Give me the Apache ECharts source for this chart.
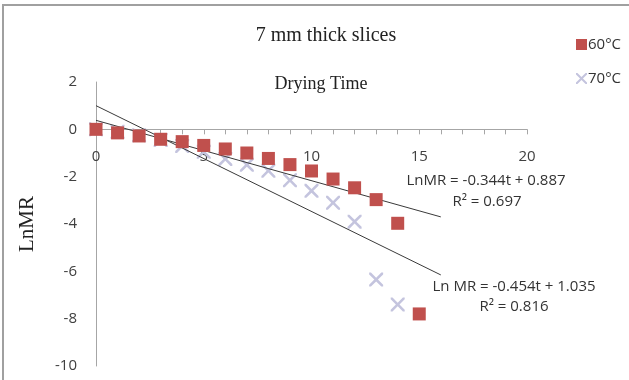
<!DOCTYPE html>
<html><head><meta charset="utf-8">
<script src="https://cdn.jsdelivr.net/npm/echarts@6/dist/echarts.min.js"></script>
<style>html,body{margin:0;padding:0;background:#fff}#c{width:629px;height:380px}</style>
</head><body><div id="c"></div>
<script>
var time60 = [0,1,2,3,4,5,6,7,8,9,10,11,12,13,14,15];
var lnmr60 = [0,-0.15,-0.28,-0.42,-0.52,-0.68,-0.83,-1.0,-1.23,-1.49,-1.76,-2.1,-2.47,-2.97,-3.97,-7.8];
var time70 = [0,1,2,3,4,5,6,7,8,9,10,11,12,13,14];
var lnmr70 = [0,-0.1,-0.25,-0.45,-0.7,-0.95,-1.25,-1.5,-1.75,-2.15,-2.6,-3.1,-3.9,-6.35,-7.4];
// trend lines as drawn: [intercept, slope]
var trendShallow = [0.38, -0.255];
var trendSteep = [1.0, -0.447];
var trendRange = [0, 16];
var xTicks = [0, 20, 5];
var yTicks = [-10, 2, 2];
var eq60 = ['LnMR = -0.344t + 0.887', 'R\u00b2 = 0.697'];
var eq70 = ['Ln MR = -0.454t + 1.035', 'R\u00b2 = 0.816'];

function pts(t, y){ return t.map(function(v,i){return [v,y[i]];}); }
function line(p){ return trendRange.map(function(t){return [t, p[0]+p[1]*t];}); }
var crossPath = 'path://M0,0L1.3,0L5,3.7L8.7,0L10,0L10,1.3L6.3,5L10,8.7L10,10L8.7,10L5,6.3L1.3,10L0,10L0,8.7L3.7,5L0,1.3Z';
var sans = 'Open Sans';
var serif = 'Liberation Serif';

var W = 629, H = 380;
var gridTop = 82, gridBottom = 14;
var plotH = H - gridTop - gridBottom;
// x axis crosses at y = 0: distance from the bottom of the plot
var zeroOffset = -plotH * (0 - yTicks[0]) / (yTicks[1] - yTicks[0]);

var chart = echarts.init(document.getElementById('c'));
chart.setOption({
  animation:false,
  backgroundColor:'#fff',
  grid:{left:96, top:gridTop, right:102, bottom:gridBottom, containLabel:false, outerBoundsMode:'none'},
  title:[
    {text:'7 mm thick slices', left:321, top:21, textAlign:'center', textStyle:{fontFamily:serif, fontSize:20, fontWeight:'normal', color:'#222'}},
    {text:'Drying Time', left:316, top:70, textAlign:'center', textStyle:{fontFamily:serif, fontSize:18, fontWeight:'normal', color:'#222'}}
  ],
  legend:{orient:'vertical', left:571, top:32, itemWidth:11, itemHeight:11, itemGap:19,
    textStyle:{fontFamily:sans, fontSize:15, color:'#333', padding:[0,0,0,-4]},
    data:['60°C','70°C']},
  xAxis:{type:'value', min:xTicks[0], max:xTicks[1], interval:xTicks[2],
    offset:zeroOffset,
    axisLine:{onZero:false, lineStyle:{color:'#a6a6a6'}},
    axisTick:{show:true, length:5, lineStyle:{color:'#a6a6a6'}},
    minorTick:{show:true, splitNumber:5, length:5, lineStyle:{color:'#a6a6a6'}},
    splitLine:{show:false},
    axisLabel:{margin:20, fontFamily:sans, fontSize:15, color:'#404040'}},
  yAxis:{type:'value', min:yTicks[0], max:yTicks[1], interval:yTicks[2],
    name:'LnMR', nameLocation:'middle', nameGap:58, nameRotate:90,
    nameTextStyle:{fontFamily:serif, fontSize:21, color:'#222'},
    axisLine:{show:true, onZero:false, lineStyle:{color:'#a6a6a6'}},
    axisTick:{show:false},
    splitLine:{show:false},
    axisLabel:{margin:19, fontFamily:sans, fontSize:15, color:'#404040'}},
  series:[
    {name:'trend1', type:'line', data:line(trendShallow), symbol:'none', silent:true,
      lineStyle:{color:'#3a3a3a', width:1}, z:3},
    {name:'trend2', type:'line', data:line(trendSteep), symbol:'none', silent:true,
      lineStyle:{color:'#3a3a3a', width:1}, z:3},
    {name:'70°C', type:'scatter', data:pts(time70, lnmr70), symbol:crossPath, symbolSize:14,
      itemStyle:{color:'#c4c4de', opacity:1}, z:2},
    {name:'60°C', type:'scatter', data:pts(time60, lnmr60), symbol:'rect', symbolSize:13,
      itemStyle:{color:'#c0504d', opacity:1}, z:4}
  ],
  graphic:[
    {type:'rect', shape:{x:3, y:5, width:700, height:500}, style:{fill:'none', stroke:'#a0a0a0', lineWidth:2}, silent:true},
    {type:'text', x:486, y:181, style:{text:eq60[0], fontFamily:sans, fontSize:15, fill:'#333', align:'center', verticalAlign:'middle'}},
    {type:'text', x:487, y:202, style:{text:eq60[1], fontFamily:sans, fontSize:15, fill:'#333', align:'center', verticalAlign:'middle'}},
    {type:'text', x:514, y:287, style:{text:eq70[0], fontFamily:sans, fontSize:15, fill:'#333', align:'center', verticalAlign:'middle'}},
    {type:'text', x:514, y:307, style:{text:eq70[1], fontFamily:sans, fontSize:15, fill:'#333', align:'center', verticalAlign:'middle'}}
  ]
});
</script></body></html>
